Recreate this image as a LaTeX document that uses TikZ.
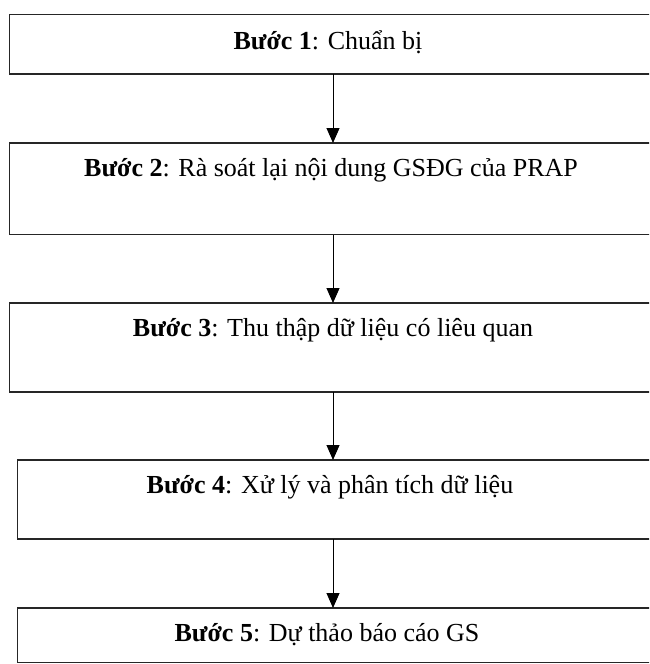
\documentclass[tikz,border=0pt]{standalone}
\usepackage{fontspec}
\setmainfont{Liberation Serif}
\usetikzlibrary{arrows.meta}
\begin{document}
\begin{tikzpicture}[x=1pt,y=-1pt,
  stepbox/.style={draw=black!85,line width=1.3pt,fill=none},
  steptext/.style={font=\fontsize{26}{30}\selectfont,inner sep=0pt,anchor=center},
  conn/.style={line width=1pt,-{Triangle[width=13pt,length=15pt]}}]
\useasboundingbox (0,0) rectangle (649,664);
\begin{scope}
\clip (0,0) rectangle (649,664);
\draw[stepbox] (9.5,14.7) rectangle (656,74);
\draw[stepbox] (9.5,143) rectangle (656,234.7);
\draw[stepbox] (9.5,303) rectangle (656,392);
\draw[stepbox] (17.5,460) rectangle (656,539);
\draw[stepbox] (17.5,608) rectangle (656,662.5);
\end{scope}
\coordinate (b1s) at (333,74);
\coordinate (b2n) at (333,143);
\coordinate (b2s) at (333,234.7);
\coordinate (b3n) at (333,303);
\coordinate (b3s) at (333,392);
\coordinate (b4n) at (333,460);
\coordinate (b4s) at (333,539);
\coordinate (b5n) at (333,608);
\node[steptext] (t1) at (328,42) {\textbf{Bước 1}: Chuẩn bị};
\node[steptext] (t2) at (331,170) {\textbf{Bước 2}: Rà soát lại nội dung GSĐG của PRAP};
\node[steptext] (t3) at (333,330) {\textbf{Bước 3}: Thu thập dữ liệu có liêu quan};
\node[steptext] (t4) at (330,487) {\textbf{Bước 4}: Xử lý và phân tích dữ liệu};
\node[steptext] (t5) at (327,635) {\textbf{Bước 5}: Dự thảo báo cáo GS};
\draw[conn] (b1s) -- (b2n);
\draw[conn] (b2s) -- (b3n);
\draw[conn] (b3s) -- (b4n);
\draw[conn] (b4s) -- (b5n);
\end{tikzpicture}
\end{document}
